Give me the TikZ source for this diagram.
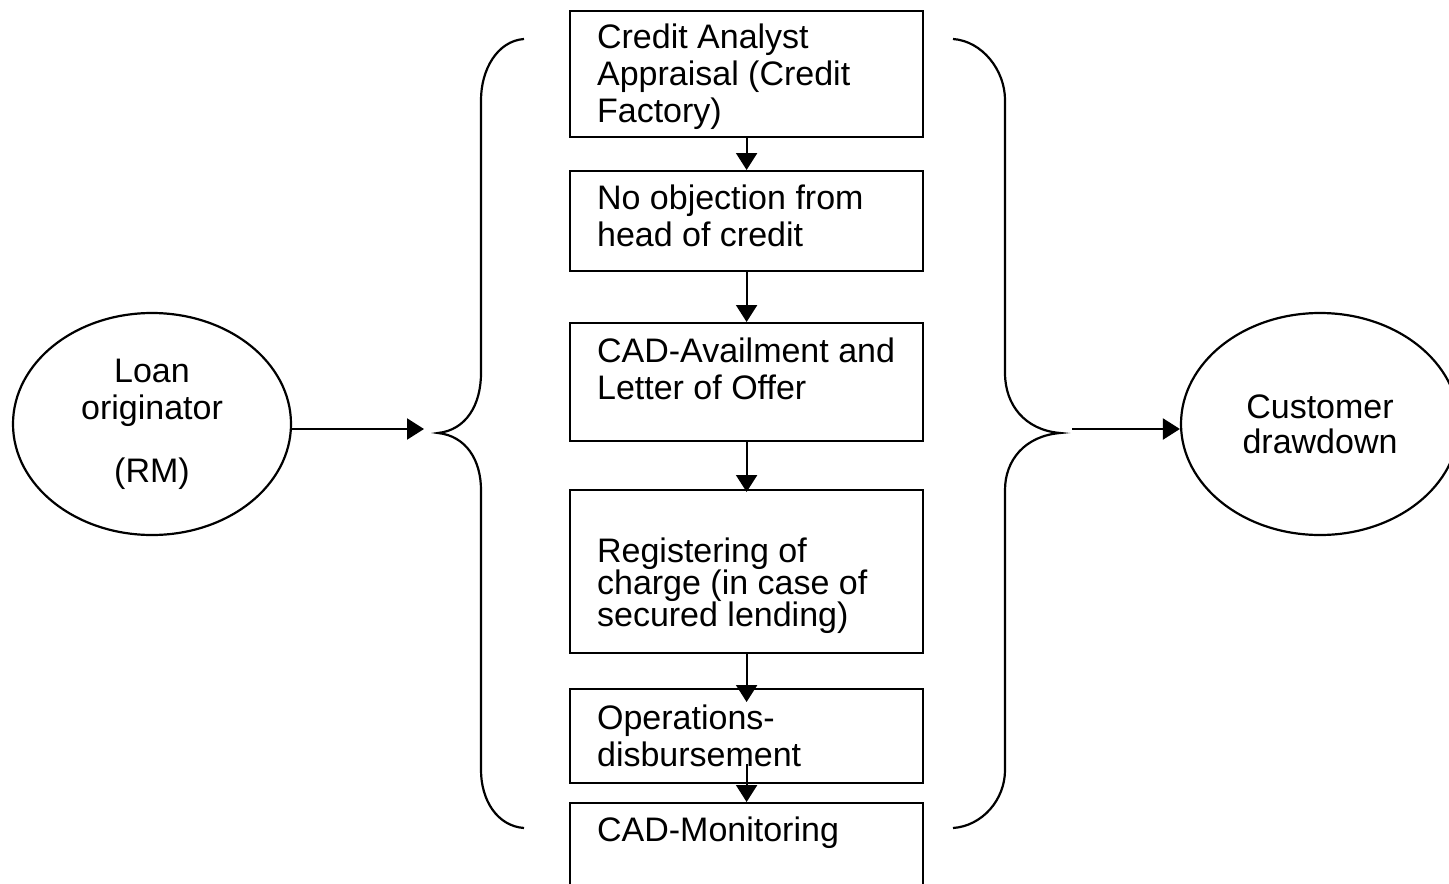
\documentclass[tikz,border=0pt]{standalone}
\usepackage{fontspec}
\setmainfont{Liberation Sans}
\usetikzlibrary{shapes.geometric,arrows.meta}
\begin{document}
\begin{tikzpicture}[x=0.5pt,y=-0.5pt,
  line width=1.1pt,
  stepbox/.style={draw,rectangle,minimum width=176.5pt,anchor=north west,inner sep=0pt},
  boxtext/.style={anchor=north west,inner sep=0pt,align=left,font=\fontsize{17pt}{18.5pt}\selectfont},
  oval/.style={draw,ellipse,minimum width=139pt,minimum height=111pt,inner sep=0pt,align=center},
  arr/.style={-{Triangle[length=8.5pt,width=10.5pt]}},
  brace/.style={line width=1.1pt}]
\clip (0,0) rectangle (1449,883);
\fill[white] (0,0) rectangle (1449,883);

% boxes
\node[stepbox,minimum height=63pt]   (b1) at (569,10)  {};
\node[stepbox,minimum height=50pt]   (b2) at (569,170) {};
\node[stepbox,minimum height=59pt]   (b3) at (569,322) {};
\node[stepbox,minimum height=81.5pt] (b4) at (569,489) {};
\node[stepbox,minimum height=47pt]   (b5) at (569,688) {};
\node[stepbox,minimum height=80pt]   (b6) at (569,802) {};

% box texts
\node[boxtext] (t1) at (596,23)  {Credit Analyst\\Appraisal (Credit\\Factory)};
\node[boxtext] (t2) at (596,184) {No objection from\\head of credit};
\node[boxtext] (t3) at (596,337) {CAD-Availment and\\Letter of Offer};
\node[boxtext,font=\fontsize{17pt}{16pt}\selectfont] (t4) at (596,537) {Registering of\\charge (in case of\\secured lending)};
\node[boxtext] (t5) at (596,704) {Operations-\\disbursement};
\node[boxtext] (t6) at (596,816) {CAD-Monitoring};

% ellipses
\node[oval,font=\fontsize{17pt}{18.5pt}\selectfont] (lo) at (152,424) {Loan\\originator\\[13pt](RM)};
\node[oval,font=\fontsize{17pt}{17.5pt}\selectfont] (cd) at (1320,424) {Customer\\drawdown};

% vertical arrows
\draw[arr] (b1.south) -- (b2.north);
\draw[arr] (b2.south) -- (b3.north);
\draw[arr] (b3.south) -- ([yshift=-1.5pt]b4.north);
\draw[arr] (b4.south) -- ([yshift=-7pt]b5.north);
\draw[arr] ([yshift=10pt]b5.south) -- (b6.north);

% horizontal arrows
\coordinate (lin) at (424,429);
\coordinate (rout) at (1072,429);
\draw[arr] (lo.east |- lin) -- (lin);
\draw[arr] (rout) -- (cd.west |- rout);

% braces
\draw[brace] (524,39) .. controls (497,41) and (481,70) .. (481,100)
  -- (481,373) .. controls (481,405) and (466,430) .. (438,433)
  .. controls (466,436) and (481,460) .. (481,490)
  -- (481,770) .. controls (481,800) and (497,826) .. (524,828);
\draw[brace] (953,39) .. controls (982,41) and (1005,70) .. (1005,100)
  -- (1005,373) .. controls (1005,405) and (1025,430) .. (1060,433)
  .. controls (1025,436) and (1005,460) .. (1005,490)
  -- (1005,770) .. controls (1005,800) and (982,826) .. (953,828);
\end{tikzpicture}
\end{document}
